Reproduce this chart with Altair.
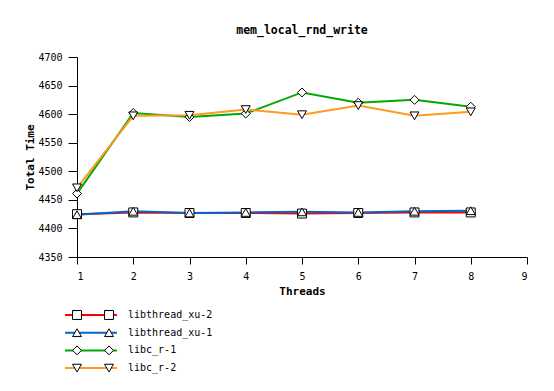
import altair as alt
import pandas as pd

threads = [1, 2, 3, 4, 5, 6, 7, 8]
series_names = ["libthread_xu-2", "libthread_xu-1", "libc_r-1", "libc_r-2"]
xu2 = [4425, 4428, 4427, 4427, 4426, 4427, 4428, 4428]
xu1 = [4424, 4430, 4427, 4428, 4429, 4428, 4430, 4431]
cr1 = [4461, 4602, 4595, 4601, 4638, 4620, 4625, 4613]
cr2 = [4471, 4597, 4598, 4608, 4599, 4615, 4597, 4604]
colors = ["#ff0000", "#0066cc", "#00aa00", "#ff9922"]
shapes = ["square", "triangle-up", "diamond", "triangle-down"]

rows = []
for k, (name, vals) in enumerate(zip(series_names, [xu2, xu1, cr1, cr2])):
    for t, v in zip(threads, vals):
        rows.append({"series": name, "threads": t, "value": v, "order": k})
df = pd.DataFrame(rows)

leg = pd.DataFrame({"series": series_names, "i": list(range(4))})
leg_pts = pd.DataFrame([{"series": s, "i": i, "px": px} for i, s in enumerate(series_names) for px in (0, 32)])

FONT = "DejaVu Sans Mono"
color_scale = alt.Scale(domain=series_names, range=colors)
shape_scale = alt.Scale(domain=series_names, range=shapes)

x_enc = alt.X("threads:Q", scale=alt.Scale(domain=[1, 9], nice=False),
              axis=alt.Axis(values=list(range(1, 10)), title="Threads", format="d", grid=False,
                            titlePadding=4, tickSize=7, labelPadding=7))
y_enc = alt.Y("value:Q", scale=alt.Scale(domain=[4350, 4700], nice=False, zero=False),
              axis=alt.Axis(values=list(range(4350, 4701, 50)), title="Total Time", format="d", grid=False,
                            titlePadding=2, tickSize=9, labelPadding=6))

base = alt.Chart(df)
line_layers = [
    alt.Chart(df[df.series == s]).mark_line(strokeWidth=2).encode(
        x=x_enc, y=y_enc,
        color=alt.Color("series:N", scale=color_scale, legend=None),
    ) for s in series_names
]
points = base.mark_point(filled=True, fill="white", stroke="black", strokeWidth=1, size=80, opacity=1).encode(
    x=x_enc, y=y_enc,
    shape=alt.Shape("series:N", scale=shape_scale, legend=None),
)

py = "258 + 17.7 * datum.i"
leg_lines = alt.Chart(leg).mark_rule(strokeWidth=2).transform_calculate(py=py).encode(
    x=alt.value(-12), x2=alt.value(40),
    y=alt.Y("py:Q", scale=None, axis=None),
    color=alt.Color("series:N", scale=color_scale, legend=None),
)
leg_marks = alt.Chart(leg_pts).mark_point(filled=True, fill="white", stroke="black", strokeWidth=1, size=80, opacity=1).transform_calculate(py=py).encode(
    x=alt.X("px:Q", scale=None, axis=None),
    y=alt.Y("py:Q", scale=None, axis=None),
    shape=alt.Shape("series:N", scale=shape_scale, legend=None),
)
leg_text = alt.Chart(leg).mark_text(align="left", baseline="middle", font=FONT, fontSize=10, color="black").transform_calculate(py=py).encode(
    x=alt.value(51),
    y=alt.Y("py:Q", scale=None, axis=None),
    text="series:N",
)

chart = alt.layer(*line_layers, points, leg_lines, leg_marks, leg_text).properties(
    width=450, height=200,
    title=alt.Title("mem_local_rnd_write", font=FONT, fontSize=11.5, fontWeight="bold", anchor="middle", offset=16, color="black"),
    autosize=alt.AutoSizeParams(type="none"),
    padding={"left": 69, "top": 49, "right": 19, "bottom": 126},
).configure(background="white").configure_view(stroke=None).configure_axis(
    grid=False, domainColor="black", tickColor="black", labelColor="black",
    labelFont=FONT, labelFontSize=10, titleFont=FONT, titleFontSize=11, titleFontWeight="bold",
    titleColor="black",
)

chart.save("out.html", embed_options={"renderer": "svg", "actions": False})
